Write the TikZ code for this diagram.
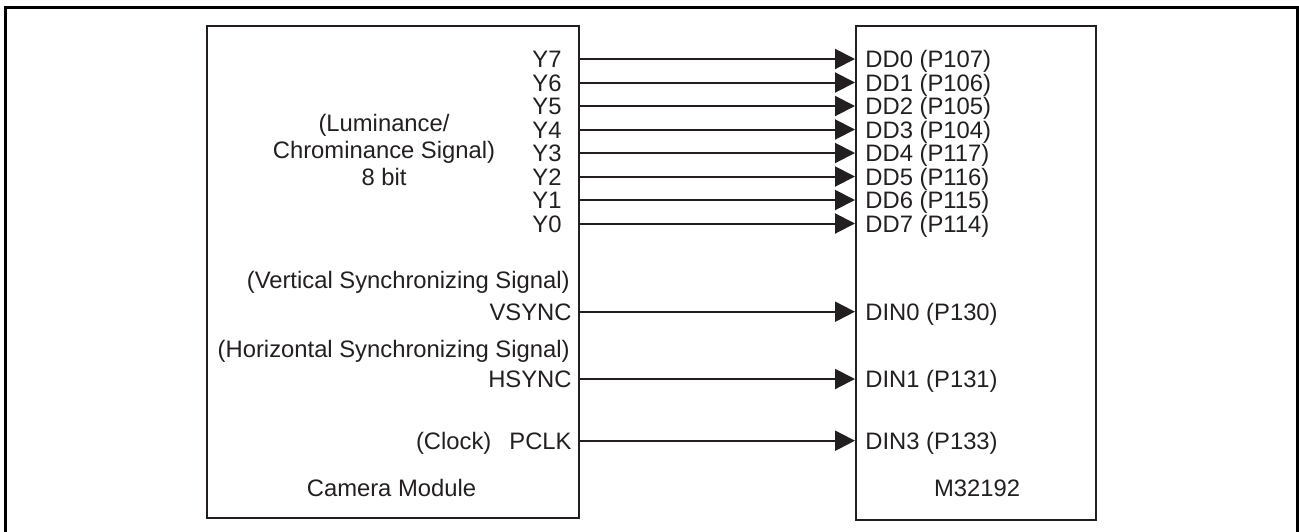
\documentclass[tikz,border=0pt]{standalone}
\usepackage{fontspec}
\setmainfont{Liberation Sans}
\usetikzlibrary{arrows.meta,positioning}
\definecolor{ink}{HTML}{231F20}
\begin{document}
\begin{tikzpicture}[x=0.5pt,y=-0.5pt,
	box/.style={draw=ink,line width=1pt,inner sep=0pt,anchor=north west},
	lbl/.style={inner sep=0pt,text height=8.5pt,text depth=0pt,text=ink},
	sig/.style={draw=ink,line width=1pt,-{Triangle[length=10pt,width=10pt]}},
	font=\fontsize{11.9}{13.5}\selectfont]
	\useasboundingbox (0,0) rectangle (1299,531);
	\draw[line width=1.5pt] (5,7) rectangle (1297,545);
	\node[box,minimum width=186pt,minimum height=246pt] (cam) at (206,25) {};
	\node[box,minimum width=120pt,minimum height=247pt] (mcu) at (855,25) {};
	\node[align=center,inner sep=0pt,text=ink] (lum) at (384,150) {(Luminance/\\Chrominance Signal)\\8 bit};
	\foreach \p [count=\k from 0] in {107,106,105,104,117,116,115,114}{
		\pgfmathtruncatemacro\n{7-\k}
		\pgfmathsetmacro\yy{59+23.5*\k}
		\coordinate (a\k) at (cam.east |- 0,\yy);
		\coordinate (b\k) at (mcu.west |- 0,\yy);
		\node[lbl,anchor=east] (y\n) at ([xshift=-9pt]a\k) {Y\n};
		\node[lbl,anchor=west] (dd\k) at ([xshift=5pt]b\k) {DD\k{} (P\p)};
		\draw[sig] (a\k) -- (b\k);
	}
	\node[lbl,anchor=east] (vdesc) at (570,279.5) {(Vertical Synchronizing Signal)};
	\node[lbl,anchor=east] (hdesc) at (570,349) {(Horizontal Synchronizing Signal)};
	\foreach \s/\t/\yy in {VSYNC/DIN0 (P130)/311.7,HSYNC/DIN1 (P131)/379,(Clock)\hspace{9pt}PCLK/DIN3 (P133)/440.7}{
		\coordinate (sa) at (cam.east |- 0,\yy);
		\coordinate (sb) at (mcu.west |- 0,\yy);
		\node[lbl,anchor=east] at ([xshift=-4pt]sa) {\s};
		\node[lbl,anchor=west] at ([xshift=5pt]sb) {\t};
		\draw[sig] (sa) -- (sb);
	}
	\node[lbl] (camname) at (391.5,488) {Camera Module};
	\node[lbl] (mcuname) at (977,487.5) {M32192};
\end{tikzpicture}
\end{document}
